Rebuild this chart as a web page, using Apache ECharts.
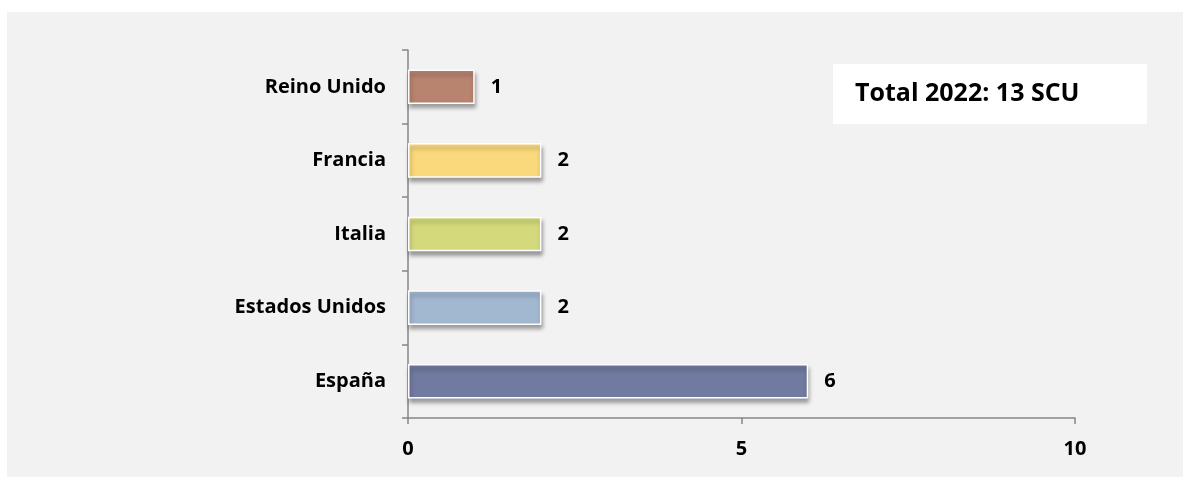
<!DOCTYPE html>
<html>
<head>
<meta charset="utf-8">
<script src="https://cdn.jsdelivr.net/npm/echarts@6/dist/echarts.min.js"></script>
<style>
  html, body { margin: 0; padding: 0; background: #ffffff; }
  #chart { width: 1190px; height: 488px; }
</style>
</head>
<body>
<div id="chart"></div>
<script>
// datos del gráfico
var paises = ['España', 'Estados Unidos', 'Italia', 'Francia', 'Reino Unido'];
var valores = [6, 2, 2, 2, 1];
var colores = ['#717aa0', '#a2b8d0', '#d4da7c', '#fad97c', '#b8836f'];
var ticksX = [0, 5, 10];
var textoTotal = 'Total 2022: 13 SCU';

var fuente = '"Open Sans", "Noto Sans", sans-serif';

var myChart = echarts.init(document.getElementById('chart'));

var option = {
  backgroundColor: '#ffffff',
  animation: false,
  graphic: [
    { // panel gris
      type: 'rect', z: -10, silent: true,
      shape: { x: 7, y: 12, width: 1176, height: 465 },
      style: { fill: '#f2f2f2' }
    },
    { // cuadro de texto
      type: 'rect', z: 10,
      shape: { x: 833, y: 64, width: 314, height: 60 },
      style: { fill: '#ffffff' }
    },
    {
      type: 'text', z: 11,
      left: 855, top: 81,
      style: {
        text: textoTotal,
        fill: '#000000',
        font: 'bold 25px ' + fuente
      }
    }
  ],
  grid: {
    left: 408, right: 115, top: 50, bottom: 70,
    containLabel: false
  },
  xAxis: {
    type: 'value',
    min: 0, max: 10, interval: 5,
    axisLine: { show: true, lineStyle: { color: '#868686', width: 1.5 } },
    axisTick: { show: true, length: 6, lineStyle: { color: '#868686', width: 1.5 } },
    splitLine: { show: false },
    axisLabel: {
      margin: 21,
      color: '#000000',
      fontFamily: fuente,
      fontWeight: 'bold',
      fontSize: 20,
      formatter: function (v) { return ticksX.indexOf(v) >= 0 ? String(v) : ''; }
    }
  },
  yAxis: {
    type: 'category',
    data: paises,
    axisLine: { show: true, lineStyle: { color: '#868686', width: 1.5 } },
    axisTick: { show: true, length: 6, alignWithLabel: false, lineStyle: { color: '#868686', width: 1.5 } },
    axisLabel: {
      margin: 22,
      color: '#000000',
      fontFamily: fuente,
      fontWeight: 'bold',
      fontSize: 20
    }
  },
  series: [{
    type: 'bar',
    data: valores.map(function (v, i) {
      return { value: v, itemStyle: { color: colores[i] } };
    }),
    barCategoryGap: '53%',
    itemStyle: {
      borderColor: '#ffffff',
      borderWidth: 1.5,
      shadowColor: 'rgba(0,0,0,0.35)',
      shadowBlur: 4,
      shadowOffsetX: 1,
      shadowOffsetY: 4
    },
    label: {
      show: true,
      position: 'right',
      distance: 16,
      color: '#000000',
      fontFamily: fuente,
      fontWeight: 'bold',
      fontSize: 20
    }
  }]
};

myChart.setOption(option);
</script>
</body>
</html>
